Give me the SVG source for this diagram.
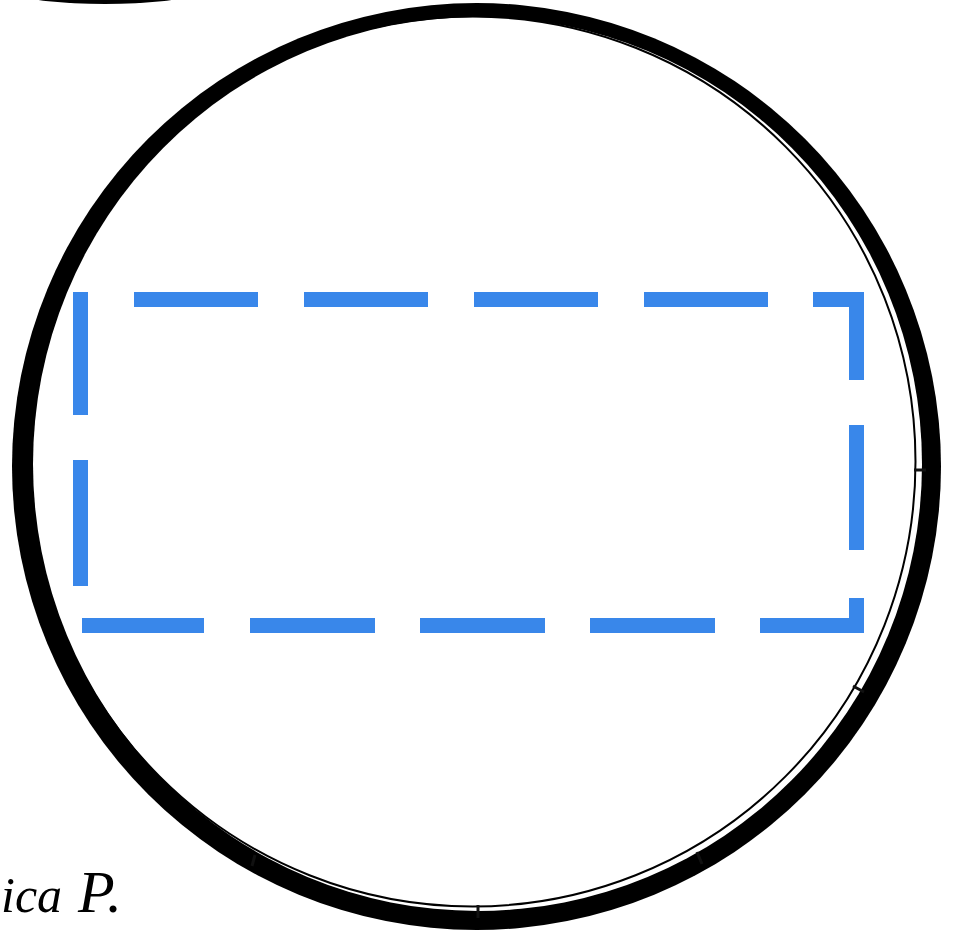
<svg xmlns="http://www.w3.org/2000/svg" width="953" height="935" viewBox="0 0 953 935">
  <style>
    .dash { fill: none; stroke: #3987EA; stroke-width: 15; stroke-linecap: butt; stroke-linejoin: miter; }
    .tick { stroke: #111; stroke-width: 3; }
    .sig { font-family: "Liberation Serif", "DejaVu Serif", serif; font-style: italic; fill: #000; }
  </style>
  <rect width="953" height="935" fill="#fff"/>
  <g id="top-fragment">
    <ellipse cx="105" cy="-5" rx="80" ry="9" fill="#000"/>
  </g>
  <g id="ring">
    <ellipse cx="476.5" cy="466.5" rx="464.5" ry="463.5" fill="#000"/>
    <ellipse cx="477.5" cy="464" rx="444.5" ry="447" fill="#fff"/>
    <ellipse cx="472.5" cy="461.5" rx="443" ry="445" fill="none" stroke="#000" stroke-width="2"/>
    <line class="tick" x1="478" y1="905" x2="478" y2="918"/>
    <line class="tick" x1="914" y1="470" x2="926" y2="470"/>
    <line class="tick" x1="853" y1="686" x2="864" y2="692"/>
    <line class="tick" x1="697" y1="852" x2="702" y2="864"/>
    <line class="tick" x1="255" y1="855" x2="252" y2="866"/>
  </g>
  <g id="dashed-rect">
    <line class="dash" x1="134" y1="299.5" x2="258" y2="299.5"/>
    <line class="dash" x1="304" y1="299.5" x2="428" y2="299.5"/>
    <line class="dash" x1="474" y1="299.5" x2="598" y2="299.5"/>
    <line class="dash" x1="644" y1="299.5" x2="768" y2="299.5"/>
    <polyline class="dash" points="813,299.5 856.5,299.5 856.5,380"/>
    <line class="dash" x1="856.5" y1="425" x2="856.5" y2="550"/>
    <polyline class="dash" points="856.5,598 856.5,625.5 760,625.5"/>
    <line class="dash" x1="590" y1="625.5" x2="715" y2="625.5"/>
    <line class="dash" x1="420" y1="625.5" x2="545" y2="625.5"/>
    <line class="dash" x1="250" y1="625.5" x2="375" y2="625.5"/>
    <line class="dash" x1="82" y1="625.5" x2="204" y2="625.5"/>
    <line class="dash" x1="80.5" y1="292" x2="80.5" y2="415"/>
    <line class="dash" x1="80.5" y1="460" x2="80.5" y2="586"/>
  </g>
  <g id="signature">
    <text class="sig" x="1" y="912" font-size="50">ica<tspan x="78" font-size="60">P.</tspan></text>
  </g>
</svg>
